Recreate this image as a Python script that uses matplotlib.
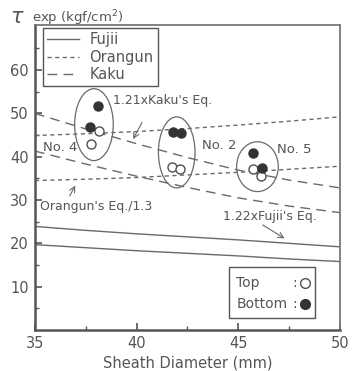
import matplotlib
matplotlib.use("Agg")
import matplotlib.pyplot as plt
from matplotlib.patches import Ellipse, Rectangle

# diameters where the design curves are read
diam = [35, 37.5, 40, 42.5, 45, 47.5, 50]
fujii = [19.7, 19.0, 18.3, 17.7, 17.1, 16.4, 15.8]
fujii_122 = [23.9, 23.0, 22.2, 21.5, 20.8, 20.0, 19.2]
orangun = [44.9, 45.3, 45.8, 46.5, 47.3, 48.2, 49.2]
orangun_13 = [34.5, 34.8, 35.2, 35.8, 36.4, 37.1, 37.8]
kaku_121 = [50.0, 46.4, 43.0, 39.8, 36.9, 34.6, 32.8]
kaku = [41.3, 38.3, 35.5, 32.9, 30.5, 28.6, 27.1]

# test results
top_x = [38.15, 37.74, 41.76, 42.14, 45.74, 46.12]
top_y = [46.0, 42.9, 37.7, 37.2, 37.1, 35.5]
bot_x = [38.11, 37.71, 41.81, 42.17, 45.71, 46.15]
bot_y = [51.8, 46.9, 45.8, 45.4, 40.8, 37.3]

# specimen groups: (x, y, width, height, label, label x, label y)
groups = [
    (37.9, 47.4, 1.9, 16.6, "No. 4", 35.4, 42.2),
    (41.97, 41.0, 1.8, 16.4, "No. 2", 43.2, 42.5),
    (45.94, 37.7, 2.05, 11.5, "No. 5", 46.9, 41.7),
]

gray = "#555555"
plt.rcParams["font.family"] = "DejaVu Sans"
plt.rcParams["text.color"] = gray
plt.rcParams["axes.labelcolor"] = gray
plt.rcParams["xtick.color"] = gray
plt.rcParams["ytick.color"] = gray

fig = plt.figure(figsize=(3.52, 3.71), dpi=100)
ax = fig.add_axes([0.0994, 0.1105, 0.8665, 0.8221])

lc = "#6a6a6a"
ax.plot(diam, fujii, color=lc, lw=1.0, label="Fujii")
ax.plot(diam, fujii_122, color=lc, lw=1.0)
ax.plot(diam, orangun, color=lc, lw=1.0, dashes=(3, 2.5), label="Orangun")
ax.plot(diam, orangun_13, color=lc, lw=1.0, dashes=(3, 2.5))
ax.plot(diam, kaku_121, color=lc, lw=1.0, dashes=(7, 4.5), label="Kaku")
ax.plot(diam, kaku, color=lc, lw=1.0, dashes=(7, 4.5))

ax.plot(top_x, top_y, "o", ms=6.5, mfc="white", mec="#505050", mew=1.0)
ax.plot(bot_x, bot_y, "o", ms=6.5, mfc="#333333", mec="#333333")

for cx, cy, w, h, name, tx, ty in groups:
    ax.add_patch(Ellipse((cx, cy), w, h, fill=False, ec=lc, lw=0.9))
    ax.text(tx, ty, name, fontsize=9.5, va="center", ha="left")

ax.text(38.84, 53.0, "1.21xKaku's Eq.", fontsize=9, va="center", ha="left")
ax.annotate("", xy=(39.76, 43.5), xytext=(40.33, 48.5),
            arrowprops=dict(arrowstyle="->", color=lc, lw=0.8))
ax.text(35.25, 28.5, "Orangun's Eq./1.3", fontsize=9, va="center", ha="left")
ax.annotate("", xy=(37.05, 33.9), xytext=(36.64, 30.4),
            arrowprops=dict(arrowstyle="->", color=lc, lw=0.8))
ax.text(44.26, 26.3, "1.22xFujii's Eq.", fontsize=9, va="center", ha="left")
ax.annotate("", xy=(47.39, 20.8), xytext=(46.08, 24.6),
            arrowprops=dict(arrowstyle="->", color=lc, lw=0.8))

leg = ax.legend(loc="upper left", bbox_to_anchor=(0.025, 0.99), fontsize=10.5,
                frameon=True, fancybox=False, edgecolor=gray, framealpha=1,
                handlelength=2.2, borderpad=0.3, labelspacing=0.15,
                handletextpad=0.7, borderaxespad=0.0)
leg.get_frame().set_linewidth(1.0)

# Top / Bottom key
ax.add_patch(Rectangle((0.635, 0.04), 0.283, 0.165, transform=ax.transAxes,
                       fill=False, ec=gray, lw=1.0))
ax.text(0.66, 0.155, "Top", transform=ax.transAxes, fontsize=10, va="center")
ax.text(0.66, 0.085, "Bottom", transform=ax.transAxes, fontsize=10, va="center")
ax.text(0.845, 0.155, ":", transform=ax.transAxes, fontsize=10, va="center")
ax.text(0.845, 0.085, ":", transform=ax.transAxes, fontsize=10, va="center")
ax.plot([0.885], [0.155], "o", ms=7, mfc="white", mec="#505050",
        transform=ax.transAxes)
ax.plot([0.885], [0.085], "o", ms=7, mfc="#333333", mec="#333333",
        transform=ax.transAxes)

ax.set_xlim(35, 50)
ax.set_ylim(0, 70.4)
ax.set_xticks([35, 40, 45, 50])
ax.set_xticks([37.5, 42.5, 47.5], minor=True)
ax.set_yticks([10, 20, 30, 40, 50, 60])
ax.set_yticks([5, 15, 25, 35, 45, 55, 65], minor=True)
ax.tick_params(direction="in", length=5, width=1.2, labelsize=10.5, pad=4.5)
ax.tick_params(which="minor", direction="in", length=3, width=1.0)
for s in ["left", "bottom"]:
    ax.spines[s].set_linewidth(1.8)
    ax.spines[s].set_color("#555555")
for s in ["top", "right"]:
    ax.spines[s].set_linewidth(1.3)
    ax.spines[s].set_color("#777777")

ax.set_xlabel("Sheath Diameter (mm)", fontsize=10.5, labelpad=3)
fig.text(0.028, 0.955, r"$\tau$", fontsize=15, va="center", ha="left")
fig.text(0.09, 0.952, r"exp (kgf/cm$^2$)", fontsize=9.5, va="center", ha="left")

fig.savefig("out.png", dpi=100)
